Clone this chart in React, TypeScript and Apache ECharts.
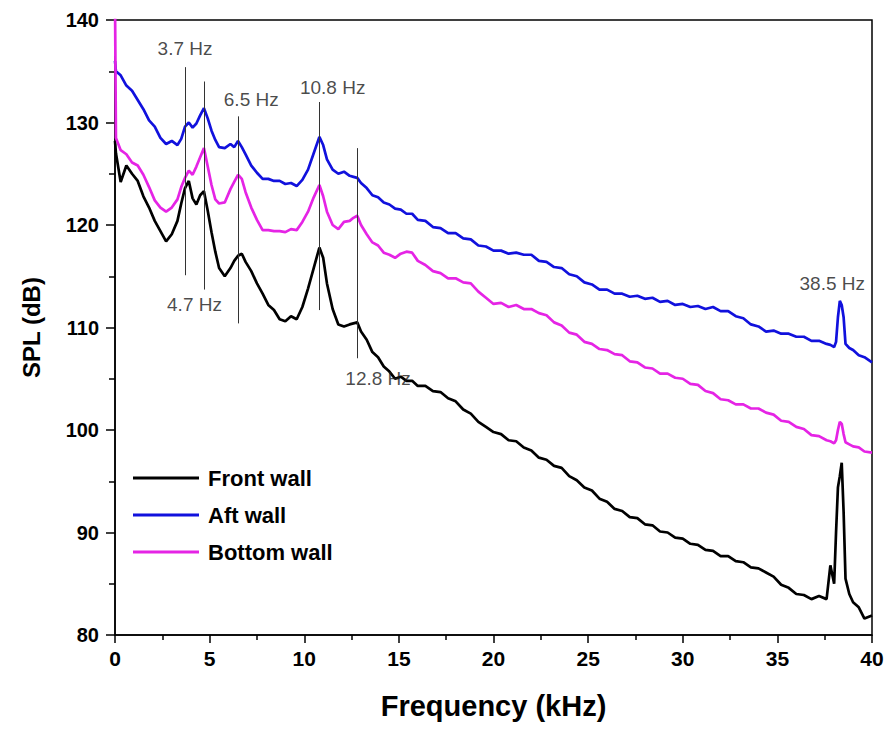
import React, { useEffect, useRef } from "react";
import * as echarts from "echarts";

// Frequency grid (kHz), shared by all three wall spectra
const FREQ = [
  0, 0.05, 0.3, 0.6, 0.9, 1.2, 1.5, 1.8, 2.1, 2.4,
  2.7, 3.0, 3.3, 3.5, 3.7, 3.9, 4.1, 4.3, 4.5, 4.7,
  4.9, 5.1, 5.3, 5.5, 5.8, 6.1, 6.3, 6.5, 6.7, 6.9,
  7.2, 7.5, 7.8, 8.1, 8.4, 8.7, 9.0, 9.3, 9.6, 9.9,
  10.2, 10.5, 10.8, 11.0, 11.2, 11.5, 11.8, 12.1, 12.4, 12.6,
  12.8, 13.0, 13.3, 13.6, 13.9, 14.2, 14.5, 14.8, 15.1, 15.4,
  15.7, 16.0, 16.4, 16.8, 17.2, 17.6, 18.0, 18.4, 18.8, 19.2,
  19.6, 20.0, 20.4, 20.8, 21.2, 21.6, 22.0, 22.4, 22.8, 23.2,
  23.6, 24.0, 24.4, 24.8, 25.2, 25.6, 26.0, 26.4, 26.8, 27.2,
  27.6, 28.0, 28.4, 28.8, 29.2, 29.6, 30.0, 30.4, 30.8, 31.2,
  31.6, 32.0, 32.4, 32.8, 33.2, 33.6, 34.0, 34.4, 34.8, 35.2,
  35.6, 36.0, 36.4, 36.8, 37.2, 37.6, 37.8, 38.0, 38.1, 38.2,
  38.3, 38.4, 38.5, 38.6, 38.8, 39.0, 39.3, 39.6, 40.0,
];

// SPL (dB) of the front wall
const FRONT_WALL = [
  128.2, 127.0, 124.2, 125.8, 125.0, 124.3, 122.8, 121.7, 120.4, 119.4,
  118.4, 119.1, 120.4, 122.1, 123.6, 124.3, 122.6, 122.0, 122.9, 123.3,
  121.4, 119.3, 117.4, 115.8, 115.0, 115.8, 116.5, 117.0, 117.2, 116.4,
  115.5, 114.3, 113.3, 112.2, 111.7, 110.8, 110.6, 111.1, 110.8, 112.0,
  113.8, 115.8, 117.8, 116.8, 114.3, 111.8, 110.3, 110.1, 110.3, 110.4,
  110.5, 109.6, 108.8, 107.6, 107.1, 106.2, 105.7, 105.0, 105.2, 104.8,
  104.8, 104.3, 104.3, 103.8, 103.7, 103.1, 102.8, 102.0, 101.6, 100.8,
  100.3, 99.8, 99.6, 99.0, 98.9, 98.3, 98.0, 97.3, 97.1, 96.5,
  96.3, 95.5, 95.1, 94.4, 94.1, 93.3, 93.0, 92.3, 92.1, 91.5,
  91.4, 90.8, 90.7, 90.1, 90.0, 89.5, 89.4, 88.9, 88.8, 88.3,
  88.2, 87.7, 87.7, 87.2, 87.1, 86.6, 86.5, 86.1, 85.7, 84.9,
  84.6, 84.0, 83.9, 83.5, 83.8, 83.5, 86.8, 85.0, 90.0, 94.4,
  95.5, 96.8, 92.0, 85.5, 84.0, 83.2, 82.7, 81.6, 81.9,
];

// SPL (dB) of the aft wall
const AFT_WALL = [
  136.0, 135.0, 134.6, 133.6, 133.1, 132.2, 131.3, 130.2, 129.6, 128.5,
  127.9, 128.2, 127.8, 128.4, 129.6, 130.0, 129.5, 129.9, 130.7, 131.4,
  130.4, 129.2, 128.3, 127.6, 127.5, 127.9, 127.6, 128.2, 127.6, 126.9,
  125.8, 125.1, 124.5, 124.5, 124.3, 124.3, 124.0, 124.1, 123.8, 124.4,
  125.4, 127.0, 128.6, 127.8, 126.4, 125.4, 125.0, 125.2, 124.8, 124.7,
  124.6, 124.1, 123.6, 122.9, 122.7, 122.2, 122.0, 121.6, 121.5, 121.1,
  121.1, 120.5, 120.4, 119.8, 119.7, 119.2, 119.2, 118.7, 118.6, 118.0,
  117.9, 117.5, 117.5, 117.2, 117.3, 117.1, 117.1, 116.5, 116.4, 115.9,
  115.8, 115.2, 115.0, 114.4, 114.2, 113.7, 113.7, 113.3, 113.3, 113.0,
  113.1, 112.8, 112.9, 112.5, 112.6, 112.2, 112.3, 112.0, 112.1, 111.8,
  112.0, 111.6, 111.6, 111.1, 110.9, 110.3, 110.1, 109.6, 109.7, 109.4,
  109.4, 109.1, 109.1, 108.7, 108.7, 108.4, 108.3, 108.1, 108.6, 111.0,
  112.6, 112.2, 111.0, 108.4, 108.0, 107.8, 107.3, 107.1, 106.6,
];

// SPL (dB) of the bottom wall
const BOTTOM_WALL = [
  142.0, 128.5, 127.3, 126.9, 126.1, 125.8, 124.9, 123.7, 122.4, 121.7,
  121.3, 121.7, 122.5, 123.7, 124.6, 125.3, 124.9, 125.7, 126.6, 127.5,
  125.7, 123.9, 122.5, 122.1, 122.2, 123.5, 124.2, 124.9, 124.5, 123.2,
  121.7, 120.5, 119.5, 119.5, 119.4, 119.4, 119.3, 119.6, 119.5, 120.3,
  121.3, 122.7, 123.9, 122.8, 121.3, 120.0, 119.6, 120.3, 120.4, 120.7,
  120.9, 120.0, 119.1, 118.3, 118.0, 117.3, 117.1, 116.8, 117.2, 117.4,
  117.3, 116.5, 116.1, 115.5, 115.3, 114.8, 114.8, 114.4, 114.3, 113.5,
  112.9, 112.3, 112.4, 112.0, 112.2, 111.8, 111.8, 111.4, 111.2, 110.5,
  110.2, 109.5, 109.3, 108.6, 108.4, 107.9, 107.8, 107.4, 107.3, 106.7,
  106.6, 106.1, 106.0, 105.5, 105.5, 105.1, 105.0, 104.5, 104.4, 103.8,
  103.6, 103.0, 102.9, 102.5, 102.5, 102.1, 102.1, 101.7, 101.5, 100.9,
  100.8, 100.3, 100.1, 99.5, 99.4, 99.0, 98.9, 98.7, 99.0, 100.0,
  100.8, 100.6, 99.6, 98.8, 98.6, 98.4, 98.3, 97.9, 97.8,
];

const SERIES_NAMES = ["Front wall", "Aft wall", "Bottom wall"];

// Marker lines through the resonance peaks (kHz, dB span)
const PEAK_KHZ = [3.7, 4.7, 6.5, 10.8, 12.8];
const PEAK_LINE_TOP = [135.4, 134.0, 130.6, 132.0, 127.5];
const PEAK_LINE_BOTTOM = [115.1, 113.7, 110.4, 111.7, 107.0];

// Peak labels and their anchor points in data coordinates
const PEAK_LABELS = ["3.7 Hz", "4.7 Hz", "6.5 Hz", "10.8 Hz", "12.8 Hz", "38.5 Hz"];
const PEAK_LABEL_KHZ = [3.7, 4.2, 7.2, 11.5, 13.9, 37.9];
const PEAK_LABEL_DB = [137.2, 112.2, 132.2, 133.4, 105.0, 114.3];

const FONT = "'Liberation Sans', Arial, sans-serif";

export default function App() {
  const ref = useRef<HTMLDivElement>(null);

  useEffect(() => {
    document.body.style.margin = "0";
    if (!ref.current) return;
    const chart = echarts.init(ref.current, undefined, { renderer: "svg" });

    const toPairs = (vals: number[]) => FREQ.map((f, i) => [f, vals[i]]);

    const lineSeries = (name: string, vals: number[], color: string) => ({
      name,
      type: "line",
      data: toPairs(vals),
      showSymbol: false,
      symbol: "none",
      color,
      lineStyle: { color, width: 2.7 },
      clip: true,
      z: 3,
    });

    const axisLineStyle = { color: "#000", width: 1.5 };

    chart.setOption({
      animation: false,
      backgroundColor: "#fff",
      grid: {
        left: 115,
        right: 16,
        top: 20,
        bottom: 94,
        show: true,
        borderColor: "#000",
        borderWidth: 1.5,
        backgroundColor: "transparent",
      },
      xAxis: {
        type: "value",
        min: 0,
        max: 40,
        interval: 5,
        name: "Frequency (kHz)",
        nameLocation: "middle",
        nameGap: 56,
        nameTextStyle: { fontFamily: FONT, fontWeight: "bold", fontSize: 29, color: "#000" },
        axisLine: { onZero: false, lineStyle: axisLineStyle },
        axisTick: { show: true, inside: false, length: 8, lineStyle: axisLineStyle },
        minorTick: { show: true, splitNumber: 2, length: 5, lineStyle: axisLineStyle },
        splitLine: { show: false },
        minorSplitLine: { show: false },
        axisLabel: { fontFamily: FONT, fontWeight: "bold", fontSize: 21, color: "#000", margin: 13 },
      },
      yAxis: {
        type: "value",
        min: 80,
        max: 140,
        interval: 10,
        name: "SPL (dB)",
        nameLocation: "middle",
        nameGap: 72,
        nameRotate: 90,
        nameTextStyle: { fontFamily: FONT, fontWeight: "bold", fontSize: 24, color: "#000" },
        axisLine: { onZero: false, lineStyle: axisLineStyle },
        axisTick: { show: true, inside: false, length: 9, lineStyle: axisLineStyle },
        minorTick: { show: true, splitNumber: 2, length: 6, lineStyle: axisLineStyle },
        splitLine: { show: false },
        minorSplitLine: { show: false },
        axisLabel: { fontFamily: FONT, fontWeight: "bold", fontSize: 20, color: "#000", margin: 16 },
      },
      legend: {
        orient: "vertical",
        left: 128,
        top: 462,
        itemWidth: 66,
        itemHeight: 3,
        itemGap: 15,
        icon: "rect",
        data: SERIES_NAMES,
        textStyle: { fontFamily: FONT, fontWeight: "bold", fontSize: 22, color: "#000", padding: [0, 0, 0, 4] },
      },
      series: [
        lineSeries(SERIES_NAMES[0], FRONT_WALL, "#000000"),
        lineSeries(SERIES_NAMES[1], AFT_WALL, "#1111dd"),
        lineSeries(SERIES_NAMES[2], BOTTOM_WALL, "#e524e5"),
        {
          name: "peaks",
          type: "scatter",
          symbol: "circle",
          symbolSize: 1,
          itemStyle: { color: "rgba(0,0,0,0)" },
          silent: true,
          z: 4,
          data: PEAK_LABELS.map((t, i) => ({ name: t, value: [PEAK_LABEL_KHZ[i], PEAK_LABEL_DB[i]] })),
          label: {
            show: true,
            position: "inside",
            formatter: (p: any) => p.name,
            fontFamily: FONT,
            fontSize: 19,
            color: "#1a1a1a",
          },
          markLine: {
            silent: true,
            symbol: ["none", "none"],
            label: { show: false },
            lineStyle: { color: "#333", width: 1, type: "solid", opacity: 1 },
            data: PEAK_KHZ.map((f, i) => [
              { coord: [f, PEAK_LINE_TOP[i]] },
              { coord: [f, PEAK_LINE_BOTTOM[i]] },
            ]),
          },
        },
      ],
    });

    return () => chart.dispose();
  }, []);

  return <div ref={ref} style={{ width: 888, height: 729 }} />;
}
